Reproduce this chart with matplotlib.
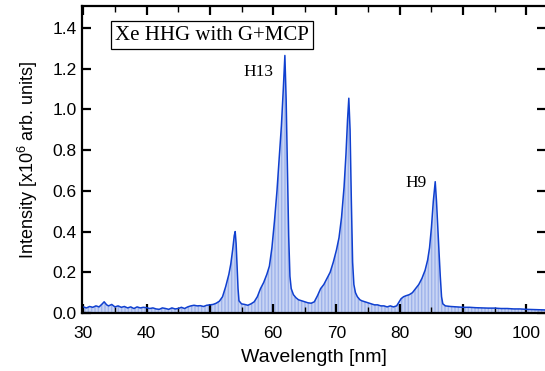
import matplotlib
matplotlib.use("Agg")
import matplotlib.pyplot as plt

plt.rcParams['font.family'] = ['Liberation Sans', 'DejaVu Sans']
plt.rcParams['mathtext.fontset'] = 'custom'
plt.rcParams['mathtext.rm'] = 'Liberation Sans'
plt.rcParams['mathtext.it'] = 'Liberation Sans'

wavelength = [30, 30.5, 31, 31.5, 32, 32.5, 33, 33.3, 33.7, 34, 34.5, 35, 35.5, 36, 36.5,
              37, 37.5, 38, 38.5, 39, 39.5, 40, 40.5, 41, 41.5, 42, 42.5, 43, 43.5, 44,
              44.5, 45, 45.5, 46, 46.5, 47, 47.5, 48, 48.5, 49, 49.5, 50, 50.5, 51, 51.5,
              52, 52.5, 53, 53.3, 53.6, 53.85, 54.0, 54.15, 54.3, 54.45, 54.6, 55.0, 55.5,
              56, 56.5, 57, 57.5, 58, 58.5, 59, 59.4, 59.8, 60.2, 60.6, 61.0, 61.3, 61.6,
              61.85, 62.05, 62.25, 62.45, 62.65, 62.85, 63.2, 63.6, 64, 64.5, 65, 65.5, 66,
              66.5, 67, 67.5, 68, 68.5, 69, 69.5, 70, 70.4, 70.8, 71.2, 71.5, 71.75, 71.95,
              72.15, 72.35, 72.55, 72.75, 73.0, 73.3, 73.7, 74, 74.5, 75, 75.5, 76, 76.5,
              77, 77.5, 78, 78.5, 79, 79.5, 79.8, 80.2, 80.6, 81, 81.5, 82, 82.5, 83, 83.5,
              84, 84.4, 84.7, 85.0, 85.3, 85.6, 85.8, 86.0, 86.2, 86.4, 86.6, 86.8, 87.2,
              88, 89, 90, 91, 92, 93, 94, 95, 96, 97, 98, 99, 100, 101, 102, 103]
intensity = [0.030, 0.025, 0.032, 0.028, 0.035, 0.030, 0.045, 0.055, 0.040, 0.035, 0.042,
             0.030, 0.035, 0.028, 0.032, 0.025, 0.030, 0.022, 0.030, 0.025, 0.028, 0.026,
             0.022, 0.025, 0.020, 0.018, 0.025, 0.022, 0.018, 0.025, 0.020, 0.022, 0.028,
             0.022, 0.030, 0.035, 0.038, 0.035, 0.036, 0.032, 0.038, 0.040, 0.042, 0.048,
             0.058, 0.080, 0.130, 0.190, 0.240, 0.310, 0.380, 0.400, 0.340, 0.230, 0.120,
             0.060, 0.045, 0.042, 0.038, 0.045, 0.055, 0.080, 0.120, 0.150, 0.190, 0.230,
             0.320, 0.450, 0.600, 0.780, 0.920, 1.100, 1.265, 1.050, 0.700, 0.380, 0.180,
             0.120, 0.090, 0.075, 0.065, 0.060, 0.055, 0.050, 0.048, 0.055, 0.085, 0.120,
             0.140, 0.170, 0.200, 0.250, 0.310, 0.370, 0.470, 0.620, 0.780, 0.950, 1.055,
             0.900, 0.550, 0.250, 0.140, 0.100, 0.080, 0.065, 0.060, 0.055, 0.050, 0.045,
             0.040, 0.040, 0.035, 0.035, 0.030, 0.035, 0.030, 0.035, 0.050, 0.070, 0.080,
             0.085, 0.090, 0.100, 0.120, 0.140, 0.170, 0.210, 0.260, 0.320, 0.420, 0.550,
             0.645, 0.550, 0.420, 0.300, 0.180, 0.080, 0.045, 0.035, 0.032, 0.030, 0.028,
             0.028, 0.026, 0.025, 0.024, 0.024, 0.022, 0.022, 0.020, 0.020, 0.018, 0.017,
             0.016, 0.015]

xticks = [30, 40, 50, 60, 70, 80, 90, 100]
yticks = [0.0, 0.2, 0.4, 0.6, 0.8, 1.0, 1.2, 1.4]
ytick_labels = ['0.0', '0.2', '0.4', '0.6', '0.8', '1.0', '1.2', '1.4']
title_text = 'Xe HHG with G+MCP'
peak_labels = ['H13', 'H9']
peak_label_pos = [(57.6, 1.184), (82.6, 0.639)]

fig = plt.figure(figsize=(5.45, 3.71), dpi=100)
ax = fig.add_axes([82/545, 58/371, 464/545, 307/371])

ax.fill_between(wavelength, intensity, 0, facecolor='#c9d5f4', edgecolor='#9fb3ea',
                hatch='|||||', linewidth=0)
ax.plot(wavelength, intensity, color='#1040d0', lw=1.1)

ax.set_xlim(29.8, 103.1)
ax.set_ylim(0, 1.508)
ax.set_xticks(xticks)
ax.set_xticks([35, 45, 55, 65, 75, 85, 95], minor=True)
ax.set_yticks(yticks)
ax.set_yticklabels(ytick_labels)

for s in ['left', 'bottom', 'top']:
    ax.spines[s].set_linewidth(1.6)
ax.spines['right'].set_visible(False)

ax.tick_params(which='major', direction='in', length=6.5, width=1.6, labelsize=12.5,
               top=True, right=True)
ax.tick_params(which='minor', direction='in', length=4.3, width=1.0, top=True, right=False)
ax.tick_params(axis='x', which='major', pad=9)
ax.tick_params(axis='y', which='major', pad=4)

ax.set_xlabel('Wavelength [nm]', fontsize=14, labelpad=6)
ax.set_ylabel(r'Intensity [x10$^{6}$ arb. units]', fontsize=13, labelpad=9)

ax.text(0.280, 0.9055, title_text, transform=ax.transAxes, ha='center', va='center',
        family='Liberation Serif', fontsize=15,
        bbox=dict(boxstyle='square,pad=0.2', facecolor='white', edgecolor='black', lw=0.9))
for lab, (px, py) in zip(peak_labels, peak_label_pos):
    ax.text(px, py, lab, ha='center', va='center', family='Liberation Serif', fontsize=12.5)

fig.savefig('out.png', dpi=100)
